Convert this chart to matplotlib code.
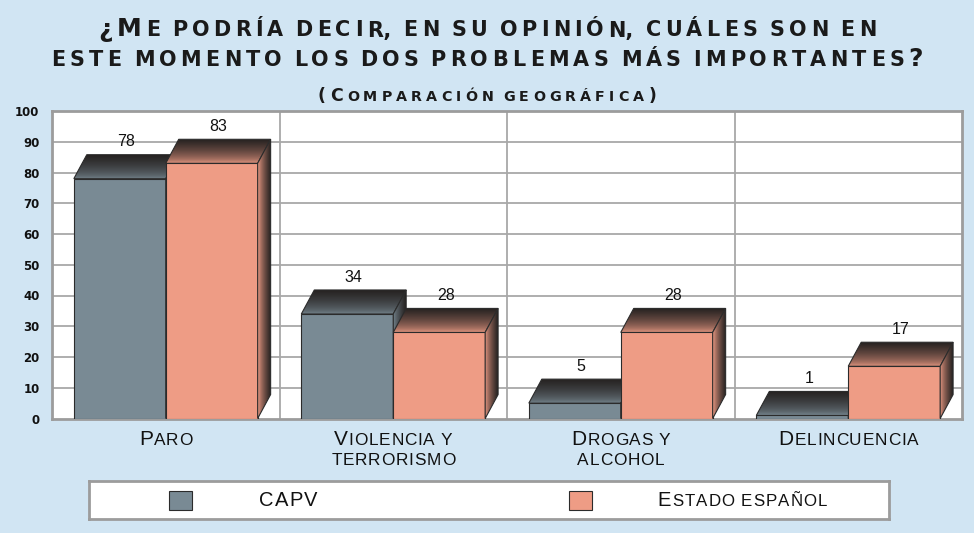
import numpy as np
import matplotlib
matplotlib.use("Agg")
import matplotlib.pyplot as plt
from matplotlib.patches import Polygon, Rectangle
from matplotlib.colors import LinearSegmentedColormap
from matplotlib.offsetbox import (TextArea, HPacker, VPacker, DrawingArea,
                                  AnnotationBbox)

# data
categories = ["Paro", "Violencia y\nterrorismo", "Drogas y\nalcohol", "Delincuencia"]
capv = [78, 34, 5, 1]
estado = [83, 28, 28, 17]
series_names = ["CAPV", "Estado español"]
yticks = list(range(0, 101, 10))

title_lines = ["¿Me podría decir, en su opinión, cuáles son en",
               "este momento los dos problemas más importantes?"]
subtitle = "(Comparación geográfica)"

BG = "#D1E5F3"
C_CAPV = "#798A94"
C_EST = "#EE9C85"
DARK = "#262221"
GRID = "#A8A8A8"
EDGE = "#2B2B2B"

W = 0.404    # bar width, category units
DX = 0.057   # 3d depth offset (x, category units)
DY = 7.8     # 3d depth offset (y, data units)


def small_caps(text, big, ratio=0.8, track=0.0, space=0.33, sep=2, **kw):
    """Text packed so lowercase letters show as smaller capitals.
    track adds letter spacing (points); word gaps are explicit spacers."""
    small = big * ratio
    lines = []
    for line in text.split("\n"):
        children = []
        last = None
        for word in line.split(" "):
            if children:
                children.append(DrawingArea(max(space * small - track, 0.5), 0))
                last = None
            for ch in word:
                sm = ch.islower() or ch == ","
                c = ch.upper() if sm else ch
                if last is not None and last[0] == sm and (track == 0 or ch == ","):
                    last[1] += c
                    children[-1] = TextArea(last[1], textprops=dict(
                        size=small if sm else big, **kw))
                else:
                    last = [sm, c]
                    children.append(TextArea(c, textprops=dict(
                        size=small if sm else big, **kw)))
        lines.append(HPacker(children=children, align="baseline", pad=0, sep=track))
    if len(lines) == 1:
        return lines[0]
    return VPacker(children=lines, align="center", pad=0, sep=sep)


def put(parent, box, xy, coords, align):
    ab = AnnotationBbox(box, xy, xycoords=coords, box_alignment=align,
                        frameon=False, pad=0, annotation_clip=False)
    parent.add_artist(ab)
    return ab


def shaded(ax, verts, color, direction, z, power=0.55):
    poly = Polygon(verts, closed=True, fc="none", ec=EDGE, lw=0.8, zorder=z + 0.5)
    ax.add_patch(poly)
    xs = [v[0] for v in verts]
    ys = [v[1] for v in verts]
    cmap = LinearSegmentedColormap.from_list("g", [color, DARK])
    ramp = np.linspace(0, 1, 64) ** power
    arr = ramp[:, None] if direction == "y" else ramp[None, :]
    im = ax.imshow(arr, cmap=cmap, vmin=0, vmax=1, origin="lower", aspect="auto",
                   extent=(min(xs), max(xs), min(ys), max(ys)),
                   interpolation="bilinear", zorder=z)
    im.set_clip_path(poly)


def bar3d(ax, x0, h, color, z):
    x1 = x0 + W
    ax.add_patch(Rectangle((x0, 0), W, h, fc=color, ec=EDGE, lw=0.8, zorder=z))
    shaded(ax, [(x0, h), (x1, h), (x1 + DX, h + DY), (x0 + DX, h + DY)],
           color, "y", z + 1)
    shaded(ax, [(x1, 0), (x1 + DX, DY), (x1 + DX, h + DY), (x1, h)],
           color, "x", z + 2, power=0.7)


fig = plt.figure(figsize=(9.74, 5.33), dpi=100, facecolor=BG)
ax = fig.add_axes([52 / 974, 1 - 418.5 / 533, 910 / 974, 307.5 / 533])
ax.set_facecolor("white")

x = np.arange(len(categories))
z = 3
for i in x:
    bar3d(ax, i - W, capv[i], C_CAPV, z)
    z += 4
    bar3d(ax, i, estado[i], C_EST, z)
    z += 4
    ax.text(i - W / 2 + DX / 2, capv[i] + DY + 1.7, str(capv[i]), ha="center",
            va="bottom", fontsize=11.5, family="Liberation Sans", color="#111111",
            zorder=50)
    ax.text(i + W / 2 + DX / 2, estado[i] + DY + 1.7, str(estado[i]), ha="center",
            va="bottom", fontsize=11.5, family="Liberation Sans", color="#111111",
            zorder=50)

ax.set_xlim(-0.5, len(categories) - 0.5)
ax.set_ylim(0, 100)
ax.set_yticks(yticks)
ax.set_yticklabels([str(t) for t in yticks], fontsize=8.5, fontweight="bold",
                   family="DejaVu Sans", color="#111111")
ax.set_xticks([])
ax.tick_params(axis="y", length=0, pad=9)
for t in yticks[1:-1]:
    ax.axhline(t, color=GRID, lw=1.3, zorder=1)
for b in x[:-1] + 0.5:
    ax.axvline(b, color=GRID, lw=1.3, zorder=1)
for s in ax.spines.values():
    s.set_color("#9C9C9C")
    s.set_linewidth(2)

# category labels (small caps)
for i, cat in enumerate(categories):
    put(ax, small_caps(cat, 15, 0.83, track=0.6, space=0.3, sep=3,
                       family="Liberation Sans", color="#111111"),
        (i, 533 - 430), ("data", "figure pixels"), (0.5, 1.0))

# title
for line, yc in zip(title_lines, [29.5, 59.5]):
    put(fig, small_caps(line, 18, 0.83, track=3.1, space=0.38,
                        family="DejaVu Sans", fontweight="bold", color="#1A1A1A"),
        (487, 533 - yc), "figure pixels", (0.5, 0.5))
put(fig, small_caps(subtitle, 12.5, 0.82, track=3.0, space=0.38,
                    family="DejaVu Sans", fontweight="bold", color="#1A1A1A"),
    (487, 533 - 96), "figure pixels", (0.5, 0.5))

# legend box
lax = fig.add_axes([89 / 974, 1 - 519 / 533, 800 / 974, 38 / 533])
lax.set_xlim(0, 1)
lax.set_ylim(0, 1)
lax.set_xticks([])
lax.set_yticks([])
lax.set_facecolor("white")
for s in lax.spines.values():
    s.set_color("#9C9C9C")
    s.set_linewidth(2)
for sq_x, tx_x, col, name in [(0.1, 0.2125, C_CAPV, series_names[0]),
                              (0.6, 0.711, C_EST, series_names[1])]:
    lax.add_patch(Rectangle((sq_x, 0.24), 0.029, 0.5, fc=col, ec=EDGE, lw=0.8,
                            transform=lax.transAxes))
    put(lax, small_caps(name, 14.5, 0.84, track=0.8, space=0.3,
                        family="Liberation Sans", color="#111111"),
        (tx_x, 0.5), lax.transAxes, (0.0, 0.5))

fig.savefig("out.png", dpi=100, facecolor=BG)
